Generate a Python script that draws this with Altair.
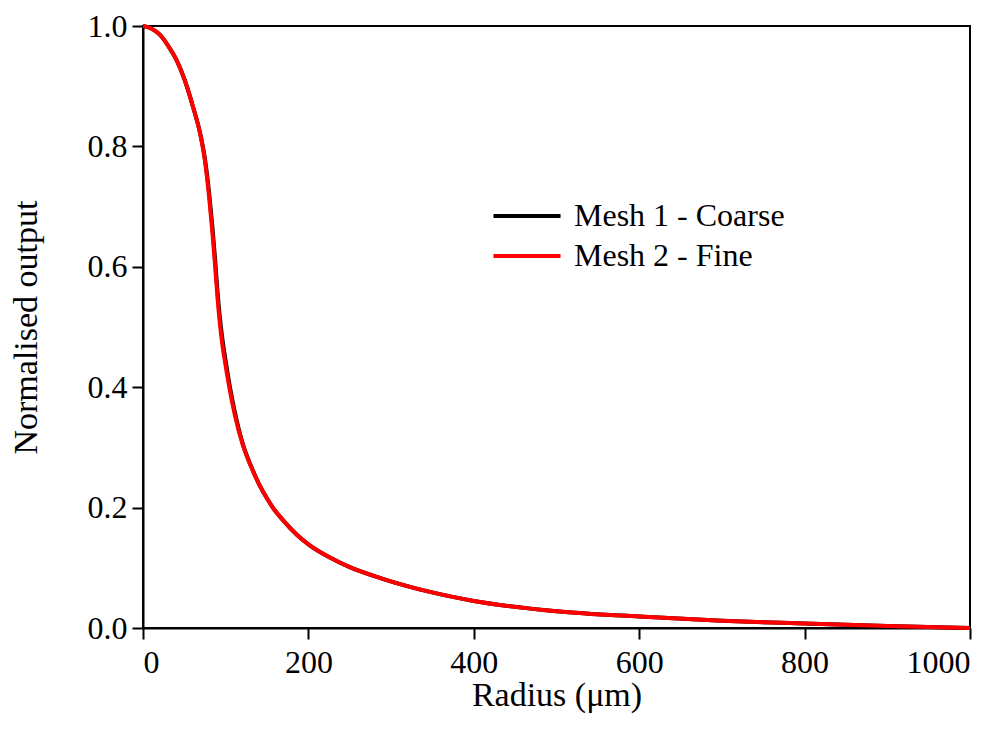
import altair as alt
import pandas as pd

radius = [0, 10, 20, 30, 40, 50, 60, 70, 75, 80, 84, 87, 90, 93, 96, 100, 105, 111,
          120, 130, 140, 150, 158, 170, 186, 200, 226, 250, 287, 347, 400, 500,
          600, 700, 800, 900, 1000]
mesh1_coarse = [1.0, 0.996, 0.986, 0.968, 0.945, 0.912, 0.868, 0.816, 0.778, 0.722,
                0.665, 0.615, 0.56, 0.515, 0.48, 0.443, 0.401, 0.359,
                0.309, 0.271, 0.24, 0.215, 0.198, 0.178, 0.155, 0.139, 0.117, 0.101,
                0.083, 0.06, 0.045, 0.028, 0.019, 0.012, 0.0075, 0.0035, 0.0]
mesh2_fine = [1.0, 0.996, 0.986, 0.968, 0.945, 0.912, 0.868, 0.815, 0.775, 0.715,
              0.655, 0.605, 0.55, 0.505, 0.47, 0.435, 0.395, 0.354,
              0.307, 0.27, 0.24, 0.215, 0.198, 0.178, 0.155, 0.139, 0.117, 0.101,
              0.083, 0.06, 0.045, 0.028, 0.019, 0.012, 0.0075, 0.0035, 0.0]
series = ["Mesh 1 - Coarse", "Mesh 2 - Fine"]
colors = ["#000000", "#ff0000"]
x_ticks = [0, 200, 400, 600, 800, 1000]
y_ticks = [0.0, 0.2, 0.4, 0.6, 0.8, 1.0]

rows = []
for s, vals in zip(series, [mesh1_coarse, mesh2_fine]):
    for i, (r, v) in enumerate(zip(radius, vals)):
        rows.append({"Radius": r, "Value": v, "Series": s, "order": i})
df = pd.DataFrame(rows)

FONT = "Liberation Serif"

chart = alt.Chart(df).mark_line(strokeWidth=4, interpolate="monotone").encode(
    x=alt.X("Radius:Q",
            scale=alt.Scale(domain=[0, 1000], nice=False),
            axis=alt.Axis(values=x_ticks, format="d", title="Radius (μm)", grid=False,
                          labelFontSize=32, titleFontSize=34, labelPadding=8,
                          titlePadding=0, tickSize=11)),
    y=alt.Y("Value:Q",
            scale=alt.Scale(domain=[0, 1], nice=False),
            axis=alt.Axis(values=y_ticks, format=".1f", title="Normalised output",
                          grid=False, labelFontSize=32, titleFontSize=34,
                          labelPadding=5, titlePadding=44, tickSize=11)),
    color=alt.Color("Series:N",
                    scale=alt.Scale(domain=series, range=colors),
                    legend=alt.Legend(title=None, orient="none", legendX=348,
                                      legendY=170, symbolType="stroke",
                                      symbolSize=4500, symbolStrokeWidth=4,
                                      labelFontSize=32, labelFont=FONT,
                                      labelColor="black", labelLimit=500,
                                      clipHeight=40, rowPadding=0, labelOffset=11)),
    order="order:Q",
).properties(
    width=827,
    height=602,
    background="white",
    autosize=alt.AutoSizeParams(type="none"),
    padding={"left": 135, "top": 18, "right": 20, "bottom": 100},
).configure_axis(
    domainColor="black", domainWidth=2, tickColor="black", tickWidth=2,
    labelColor="black", titleColor="black", labelFont=FONT, titleFont=FONT,
    titleFontWeight="normal",
).configure_view(
    stroke="black", strokeWidth=2,
)

chart.save("out.html", embed_options={"renderer": "svg", "actions": False})
